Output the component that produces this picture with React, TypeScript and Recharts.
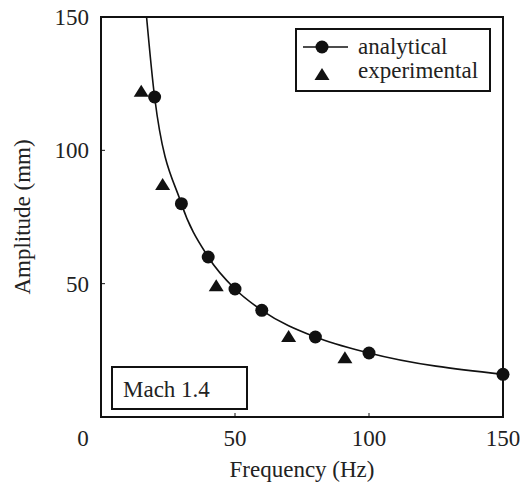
import React from 'react';
import { ComposedChart, Line, Scatter, XAxis, YAxis, ReferenceArea, Legend, Label } from 'recharts';

// Analytical curve (line)
const curveFreq = [17, 20, 30, 40, 50, 60, 80, 100, 150];
const curveAmp = [150, 120, 80, 60, 48, 40, 30, 24, 16];
// Analytical markers
const analyticalFreq = [20, 30, 40, 50, 60, 80, 100, 150];
const analyticalAmp = [120, 80, 60, 48, 40, 30, 24, 16];
// Experimental markers
const experimentalFreq = [15, 23, 43, 70, 91];
const experimentalAmp = [122, 87, 49, 30, 22];

const xTicks = [0, 50, 100, 150];
const yTicks = [0, 50, 100, 150];

const FONT = '"Liberation Serif", "Times New Roman", serif';
const FS = 23;
const INK = '#111';

const curveData = curveFreq.map((f, i) => ({ f, a: curveAmp[i] }));
const analyticalData = analyticalFreq.map((f, i) => ({ f, a: analyticalAmp[i] }));
const experimentalData = experimentalFreq.map((f, i) => ({ f, a: experimentalAmp[i] }));

const CircleShape = (props: any) => {
  const { cx, cy } = props;
  if (cx == null || cy == null) return null;
  return <circle cx={cx} cy={cy} r={6.5} fill={INK} />;
};

const TriangleShape = (props: any) => {
  const { cx, cy } = props;
  if (cx == null || cy == null) return null;
  return <polygon points={`${cx},${cy - 7} ${cx - 7.5},${cy + 5} ${cx + 7.5},${cy + 5}`} fill={INK} />;
};

const XTick = (props: any) => {
  const { x, y, payload } = props;
  const v = payload.value;
  return (
    <g>
      {v !== 0 && v !== 150 && <line x1={x} x2={x} y1={y} y2={y - 4} stroke={INK} strokeWidth={1} />}
      <text x={v === 0 ? x - 18 : x} y={y + 29} textAnchor="middle" fontFamily={FONT} fontSize={FS} fill="#222">
        {v}
      </text>
    </g>
  );
};

const YTick = (props: any) => {
  const { x, y, payload } = props;
  const v = payload.value;
  if (v === 0) return null;
  return (
    <g>
      {v !== 150 && <line x1={x} x2={x + 4} y1={y} y2={y} stroke={INK} strokeWidth={1} />}
      <text x={x - 12} y={y + 8} textAnchor="end" fontFamily={FONT} fontSize={FS} fill="#222">
        {v}
      </text>
    </g>
  );
};

const TopTick = (props: any) => {
  const { x, y, payload } = props;
  const v = payload.value;
  if (v === 0 || v === 150) return null;
  return <line x1={x} x2={x} y1={y} y2={y + 4} stroke={INK} strokeWidth={1} />;
};

const RightTick = (props: any) => {
  const { x, y, payload } = props;
  const v = payload.value;
  if (v === 0 || v === 150) return null;
  return <line x1={x} x2={x - 4} y1={y} y2={y} stroke={INK} strokeWidth={1} />;
};

const LegendBox = () => (
  <svg width={196} height={64} style={{ display: 'block' }}>
    <rect x={1} y={1} width={194} height={62} fill="#fff" stroke={INK} strokeWidth={2} />
    <line x1={8} x2={53} y1={19} y2={19} stroke={INK} strokeWidth={1.5} />
    <circle cx={27} cy={19} r={6.5} fill={INK} />
    <text x={63} y={26} fontFamily={FONT} fontSize={FS} fill="#222">analytical</text>
    <polygon points={`27,${47 - 7} ${27 - 7.5},${47 + 5} ${27 + 7.5},${47 + 5}`} fill={INK} />
    <text x={63} y={50} fontFamily={FONT} fontSize={FS} fill="#222">experimental</text>
  </svg>
);

const YLabel = (props: any) => {
  return (
    <text
      x={30}
      y={217}
      transform="rotate(-90 30 217)"
      textAnchor="middle"
      fontFamily={FONT}
      fontSize={FS}
      fill="#222"
    >
      Amplitude (mm)
    </text>
  );
};

export default function App() {
  return (
    <div style={{ position: 'absolute', left: 0, top: 0, width: 521, height: 486, background: '#fff', fontFamily: FONT }}>
      <ComposedChart width={521} height={486} margin={{ top: 17, right: 18, bottom: 0, left: 0 }}>
        <XAxis
          xAxisId="main"
          type="number"
          dataKey="f"
          domain={[0, 150]}
          ticks={xTicks}
          axisLine={false}
          tickLine={false}
          tickSize={0}
          tickMargin={0}
          tick={<XTick />}
          height={69}
          interval={0}
        >
          <Label
            value="Frequency (Hz)"
            position="insideBottom"
            offset={9}
            style={{ fontFamily: FONT, fontSize: FS, fill: '#222' }}
          />
        </XAxis>
        <XAxis
          xAxisId="top"
          orientation="top"
          type="number"
          domain={[0, 150]}
          ticks={xTicks}
          axisLine={false}
          tickLine={false}
          tickSize={0}
          tickMargin={0}
          tick={<TopTick />}
          height={0}
          interval={0}
        />
        <YAxis
          yAxisId="main"
          type="number"
          domain={[0, 150]}
          ticks={yTicks}
          axisLine={false}
          tickLine={false}
          tickSize={0}
          tickMargin={0}
          tick={<YTick />}
          width={101}
          interval={0}
        >
          <Label content={<YLabel />} />
        </YAxis>
        <YAxis
          yAxisId="right"
          orientation="right"
          type="number"
          domain={[0, 150]}
          ticks={yTicks}
          axisLine={false}
          tickLine={false}
          tickSize={0}
          tickMargin={0}
          tick={<RightTick />}
          width={0}
          interval={0}
        />
        <ReferenceArea
          xAxisId="main"
          yAxisId="main"
          x1={0}
          x2={150}
          y1={0}
          y2={150}
          fill="none"
          fillOpacity={0}
          stroke={INK}
          strokeWidth={2}
        />
        <Line
          xAxisId="main"
          yAxisId="main"
          data={curveData}
          dataKey="a"
          type="monotone"
          stroke={INK}
          strokeWidth={1.6}
          dot={false}
          activeDot={false}
          isAnimationActive={false}
          legendType="none"
        />
        <Scatter
          xAxisId="main"
          yAxisId="main"
          name="analytical"
          data={analyticalData}
          dataKey="a"
          shape={<CircleShape />}
          isAnimationActive={false}
        />
        <Scatter
          xAxisId="main"
          yAxisId="main"
          name="experimental"
          data={experimentalData}
          dataKey="a"
          shape={<TriangleShape />}
          isAnimationActive={false}
        />
        <Legend
          layout="horizontal"
          verticalAlign="middle"
          align="center"
          content={<LegendBox />}
          wrapperStyle={{ position: 'absolute', left: 295, top: 28, width: 196, height: 64 }}
        />
        <g>
          <rect x={112} y={367} width={135} height={42} fill="#fff" stroke={INK} strokeWidth={2} />
          <text x={123} y={397} fontFamily={FONT} fontSize={FS} fill="#222">Mach 1.4</text>
        </g>
      </ComposedChart>
    </div>
  );
}
